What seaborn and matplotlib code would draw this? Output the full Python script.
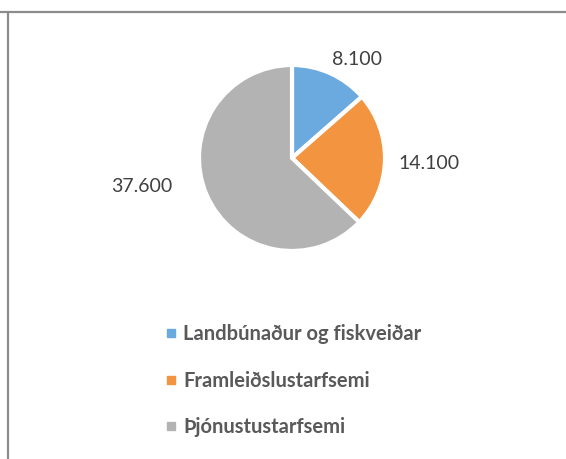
import numpy as np
import matplotlib
matplotlib.use("Agg")
import matplotlib.pyplot as plt
from matplotlib.lines import Line2D
import seaborn as sns

# data
categories = ["Landbúnaður og fiskveiðar", "Framleiðslustarfsemi", "Þjónustustarfsemi"]
values = [8100, 14100, 37600]
value_labels = ["8.100", "14.100", "37.600"]

colors = ["#6AAADE", "#F29440", "#B3B3B3"]

sns.set_theme(style="white")
plt.rcParams["font.family"] = ["Lato", "DejaVu Sans"]

fig = plt.figure(figsize=(5.66, 4.59), dpi=100)
ax = fig.add_axes([106 / 566, 1 - 297.5 / 459, 372 / 566, 279 / 459])

wedges, _ = ax.pie(values, colors=colors, startangle=90, counterclock=False,
                   radius=1, wedgeprops=dict(edgecolor="white", linewidth=3))
ax.set_xlim(-2, 2)
ax.set_ylim(-1.5, 1.5)
ax.set_aspect("equal")
ax.axis("off")

# data labels placed outside, like the office chart
angle_shift = [9, 1, 12.5]
label_dist = [1.27, 1.47, 1.64]
for w, txt, sh, d in zip(wedges, value_labels, angle_shift, label_dist):
    mid = np.deg2rad((w.theta1 + w.theta2) / 2 - sh)
    ax.text(d * np.cos(mid), d * np.sin(mid), txt, ha="center", va="center",
            fontsize=14, color="#404040")

handles = [Line2D([0], [0], marker="s", linestyle="", markersize=5.5,
                  markerfacecolor=c, markeredgecolor=c) for c in colors]
leg = fig.legend(handles, categories, loc="upper left",
                 bbox_to_anchor=(165 / 566, 1 - 324 / 459), frameon=False,
                 prop=dict(weight="bold", size=14.5), labelcolor="#595959",
                 labelspacing=1.32, handlelength=0.55, handletextpad=0.35,
                 borderpad=0, borderaxespad=0)

# outer frame lines
fig.add_artist(Line2D([0, 1], [1 - 11.5 / 459] * 2, color="#8C8C8C", lw=1.6,
                      transform=fig.transFigure))
fig.add_artist(Line2D([8 / 566] * 2, [0, 1 - 11.5 / 459], color="#8C8C8C", lw=1.6,
                      transform=fig.transFigure))

fig.savefig("out.png", dpi=100)
